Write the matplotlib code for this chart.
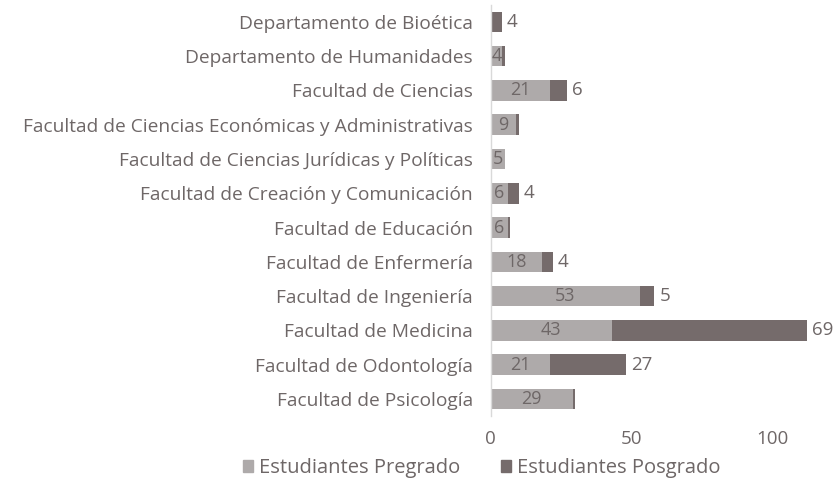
import matplotlib
matplotlib.use("Agg")
import matplotlib.pyplot as plt
from matplotlib.patches import Patch

categories = [
    "Departamento de Bioética",
    "Departamento de Humanidades",
    "Facultad de Ciencias",
    "Facultad de Ciencias Económicas y Administrativas",
    "Facultad de Ciencias Jurídicas y Políticas",
    "Facultad de Creación y Comunicación",
    "Facultad de Educación",
    "Facultad de Enfermería",
    "Facultad de Ingeniería",
    "Facultad de Medicina",
    "Facultad de Odontología",
    "Facultad de Psicología",
]
pregrado = [0, 4, 21, 9, 5, 6, 6, 18, 53, 43, 21, 29]
posgrado = [4, 1, 6, 1, 0, 4, 1, 4, 5, 69, 27, 1]
# labels shown in the reference (small values are not labelled)
pregrado_labels = ["", "4", "21", "9", "5", "6", "6", "18", "53", "43", "21", "29"]
posgrado_labels = ["4", "", "6", "", "", "4", "", "4", "5", "69", "27", ""]
xticks = [0, 50, 100]

c_pre = "#aeaaaa"
c_pos = "#756b6b"
c_txt = "#6e6767"

plt.rcParams["font.family"] = ["Open Sans", "DejaVu Sans"]

fig = plt.figure(figsize=(8.36, 4.82), dpi=100)
ax = fig.add_axes([0.587, 0.137, 0.405, 0.853])

y = list(range(len(categories)))
ax.barh(y, pregrado, height=0.6, color=c_pre)
ax.barh(y, posgrado, left=pregrado, height=0.6, color=c_pos)

for i in y:
    if pregrado_labels[i]:
        ax.text(pregrado[i] / 2, i, pregrado_labels[i], ha="center", va="center",
                fontsize=13, color=c_txt)
    if posgrado_labels[i]:
        ax.text(pregrado[i] + posgrado[i] + 1.8, i, posgrado_labels[i], ha="left",
                va="center", fontsize=13.5, color=c_txt)

ax.set_ylim(len(categories) - 0.5, -0.5)
ax.set_xlim(0, 120)
ax.set_yticks(y)
ax.set_yticklabels(categories, fontsize=13.8, color=c_txt)
ax.set_xticks(xticks)
ax.set_xticklabels([str(t) for t in xticks], fontsize=13.5, color=c_txt)
ax.tick_params(axis="y", length=0, pad=13)
ax.tick_params(axis="x", length=0, pad=10)
for s in ["top", "right", "bottom"]:
    ax.spines[s].set_visible(False)
ax.spines["left"].set_color("#d9d9d9")
ax.spines["left"].set_linewidth(1)

handles = [Patch(color=c_pre, label="Estudiantes Pregrado"),
           Patch(color=c_pos, label="Estudiantes Posgrado")]
leg = fig.legend(handles=handles, loc="center", bbox_to_anchor=(482 / 836, 1 - 468 / 482),
                 ncol=2, frameon=False, fontsize=14.5, handlelength=0.5, handleheight=0.5,
                 handletextpad=0.3, columnspacing=2.0)
for t in leg.get_texts():
    t.set_color(c_txt)

fig.savefig("out.png", dpi=100)
